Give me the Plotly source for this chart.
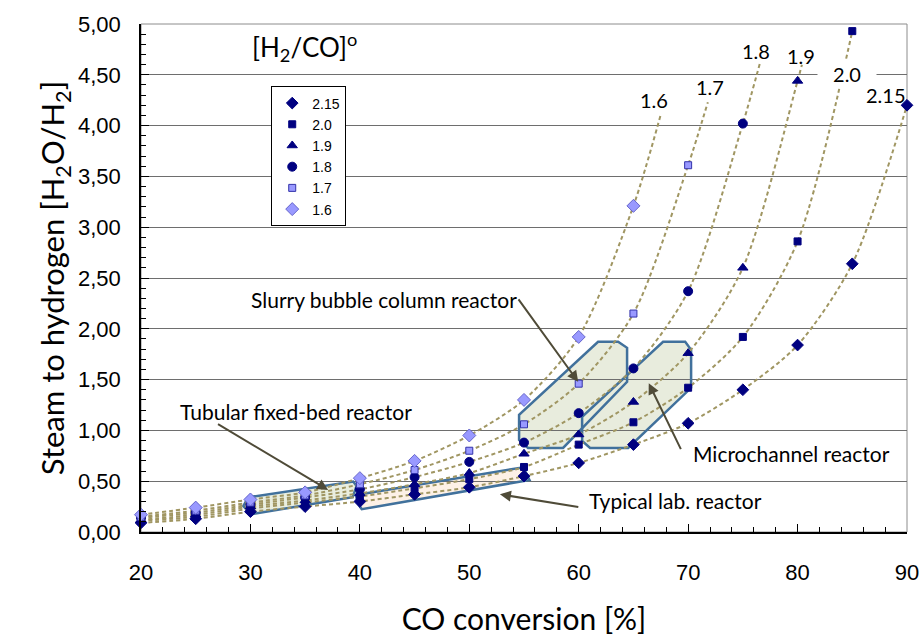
import plotly.graph_objects as go

# ---------------- data ----------------
conv = [20, 25, 30, 35, 40, 45, 50, 55, 60, 65, 70, 75, 80, 85, 90]

ratio_215 = [0.09, 0.13, 0.20, 0.25, 0.30, 0.37, 0.44, 0.55, 0.68, 0.86, 1.07, 1.40, 1.84, 2.64, 4.20]
ratio_20 = [0.11, 0.15, 0.23, 0.29, 0.35, 0.43, 0.52, 0.64, 0.86, 1.08, 1.42, 1.92, 2.86, 4.93]
ratio_19 = [0.12, 0.17, 0.25, 0.31, 0.38, 0.47, 0.58, 0.77, 0.96, 1.28, 1.76, 2.60, 4.44]
ratio_18 = [0.14, 0.19, 0.27, 0.34, 0.42, 0.54, 0.69, 0.88, 1.17, 1.61, 2.37, 4.02]
ratio_17 = [0.15, 0.21, 0.29, 0.36, 0.47, 0.61, 0.80, 1.06, 1.46, 2.15, 3.61]
ratio_16 = [0.17, 0.24, 0.32, 0.39, 0.53, 0.70, 0.95, 1.30, 1.92, 3.21]

series_names = ["2.15", "2.0", "1.9", "1.8", "1.7", "1.6"]
series_vals = [ratio_215, ratio_20, ratio_19, ratio_18, ratio_17, ratio_16]

# where each dashed trend line ends
trend_end_x = [None, None, 80.4, 76.6, 71.8, 67.5]
trend_end_y = [None, None, 4.60, 4.63, 4.23, 4.11]

# curve label positions (data coords)
curve_label_x = [88.1, 84.5, 80.3, 76.2, 72.0, 66.9]
curve_label_y = [4.30, 4.51, 4.69, 4.73, 4.38, 4.25]

# reactor regions (polygons in data coords)
tubular_x = [29.8, 39.4, 39.7, 39.35, 30.03, 29.35]
tubular_y = [0.342, 0.496, 0.453, 0.342, 0.174, 0.256]
lab_x = [39.65, 54.95, 55.5, 40.17, 39.8]
lab_y = [0.365, 0.637, 0.512, 0.224, 0.283]
slurry_x = [61.77, 63.60, 64.42, 64.42, 58.57, 55.37, 54.55, 54.55]
slurry_y = [1.872, 1.872, 1.813, 1.478, 0.828, 0.828, 0.906, 1.153]
micro_x = [67.71, 69.73, 70.27, 70.27, 64.52, 61.04, 60.31, 60.31]
micro_y = [1.872, 1.872, 1.793, 1.419, 0.828, 0.828, 0.897, 1.133]

# callout labels: text, label pos, arrow tail, arrow head
callouts = [
    ("Slurry bubble column reactor", 42.2, 2.29, 54.4, 2.305, 59.95, 1.478),
    ("Tubular fixed-bed reactor", 34.2, 1.185, 26.9, 1.071, 37.1, 0.414),
    ("Microchannel reactor", 79.4, 0.768, 69.4, 0.801, 66.4, 1.465),
    ("Typical lab. reactor", 68.8, 0.308, 60.1, 0.243, 52.8, 0.371),
]

# ---------------- styles ----------------
NAVY = "#000080"
LIGHT = "#9999ff"
marker_styles = [
    dict(symbol="diamond", size=9, color=NAVY, line=dict(color=NAVY, width=1)),
    dict(symbol="square", size=7, color=NAVY, line=dict(color=NAVY, width=1)),
    dict(symbol="triangle-up", size=9, color=NAVY, line=dict(color=NAVY, width=1)),
    dict(symbol="circle", size=9, color=NAVY, line=dict(color=NAVY, width=1)),
    dict(symbol="square", size=7, color=LIGHT, line=dict(color="#3333aa", width=1)),
    dict(symbol="diamond", size=10, color=LIGHT, line=dict(color="#6666cc", width=1)),
]
TREND = "#a09662"
CAL = "Lato, Carlito, Calibri, sans-serif"
ARIAL = "Liberation Sans, Arial, sans-serif"

fig = go.Figure()

# trend lines
for i, vals in enumerate(series_vals):
    xs = conv[:len(vals)]
    ys = list(vals)
    if trend_end_x[i] is not None:
        xs = xs + [trend_end_x[i]]
        ys = ys + [trend_end_y[i]]
    fig.add_trace(go.Scatter(
        x=xs, y=ys, mode="lines", showlegend=False, hoverinfo="skip",
        line=dict(color=TREND, width=2, dash="4px,3px", shape="spline", smoothing=0.8),
    ))

# markers
for i, vals in enumerate(series_vals):
    fig.add_trace(go.Scatter(
        x=conv[:len(vals)], y=vals, mode="markers", name=series_names[i],
        marker=marker_styles[i], cliponaxis=False,
    ))


def poly_path(xs, ys):
    p = "M %g,%g " % (xs[0], ys[0])
    for x, y in zip(xs[1:], ys[1:]):
        p += "L %g,%g " % (x, y)
    return p + "Z"


shapes = []
# frame
shapes.append(dict(type="rect", xref="paper", yref="paper", x0=0, x1=1, y0=0, y1=1,
                   line=dict(color="#8c8c8c", width=1), layer="below"))
BORDER = "#41719c"
fills = [(tubular_x, tubular_y, "#e9eedf"), (lab_x, lab_y, "#fdf1e6"),
         (slurry_x, slurry_y, "#e8ecdd"), (micro_x, micro_y, "#e8ecdd")]
for xs, ys, fc in fills:
    shapes.append(dict(type="path", xref="x", yref="y", path=poly_path(xs, ys),
                       fillcolor=fc, line=dict(width=0), layer="below"))
for xs, ys, fc in fills:
    shapes.append(dict(type="path", xref="x", yref="y", path=poly_path(xs, ys),
                       fillcolor="rgba(0,0,0,0)", line=dict(color=BORDER, width=2.5),
                       layer="between"))

annotations = []
for i, nm in enumerate(series_names):
    annotations.append(dict(
        x=curve_label_x[i], y=curve_label_y[i], xref="x", yref="y", text=nm,
        showarrow=False, font=dict(family=CAL, size=20, color="black"),
        bgcolor="white" if nm == "2.0" else "rgba(0,0,0,0)",
        width=56 if nm == "2.0" else None,
    ))
annotations.append(dict(
    x=34.9, y=4.77, xref="x", yref="y", text="[H<sub>2</sub>/CO]<sup>o</sup>",
    showarrow=False, font=dict(family=CAL, size=26, color="black"),
))
for txt, lx, ly, tx, ty, hx, hy in callouts:
    annotations.append(dict(x=lx, y=ly, xref="x", yref="y", text=txt, showarrow=False,
                            font=dict(family=CAL, size=21, color="black")))
    annotations.append(dict(x=hx, y=hy, ax=tx, ay=ty, xref="x", yref="y", axref="x", ayref="y",
                            text="", showarrow=True, arrowhead=2, arrowsize=1.1,
                            arrowwidth=2, arrowcolor="#4f4b38"))

fig.update_layout(
    width=921, height=636,
    margin=dict(l=141, r=14, t=24, b=104),
    paper_bgcolor="white", plot_bgcolor="white",
    separators=",.",
    shapes=shapes, annotations=annotations,
    legend=dict(x=0.17, y=0.877, xanchor="left", yanchor="top",
                bordercolor="black", borderwidth=1, bgcolor="white",
                font=dict(family=ARIAL, size=14, color="black"),
                itemwidth=30, tracegroupgap=0),
    xaxis=dict(range=[20, 90], dtick=10, tick0=20, showgrid=False, zeroline=False,
               automargin=False,
               showline=True, linecolor="black", linewidth=1.5,
               ticks="inside", ticklen=8, tickwidth=1.2, tickcolor="black",
               minor=dict(ticks="inside", dtick=2, ticklen=5, tickcolor="black", showgrid=False),
               tickfont=dict(family=ARIAL, size=22, color="black"),
               ticklabelstandoff=20,
               title=dict(text="CO conversion [%]", font=dict(family=CAL, size=30, color="black"),
                          standoff=28)),
    yaxis=dict(range=[0, 5], dtick=0.5, tick0=0, tickformat=".2f",
               automargin=False,
               showgrid=True, gridcolor="#6e6e6e", gridwidth=1.2, zeroline=False,
               showline=True, linecolor="black", linewidth=1.5,
               ticks="inside", ticklen=8, tickwidth=1.2, tickcolor="black",
               minor=dict(ticks="inside", dtick=0.1, ticklen=5, tickcolor="black", showgrid=False),
               tickfont=dict(family=ARIAL, size=22, color="black"),
               ticklabelstandoff=14,
               title=dict(text="Steam to hydrogen [H<sub>2</sub>O/H<sub>2</sub>]",
                          font=dict(family=CAL, size=31, color="black"), standoff=4)),
)

fig.write_html("out.html")
